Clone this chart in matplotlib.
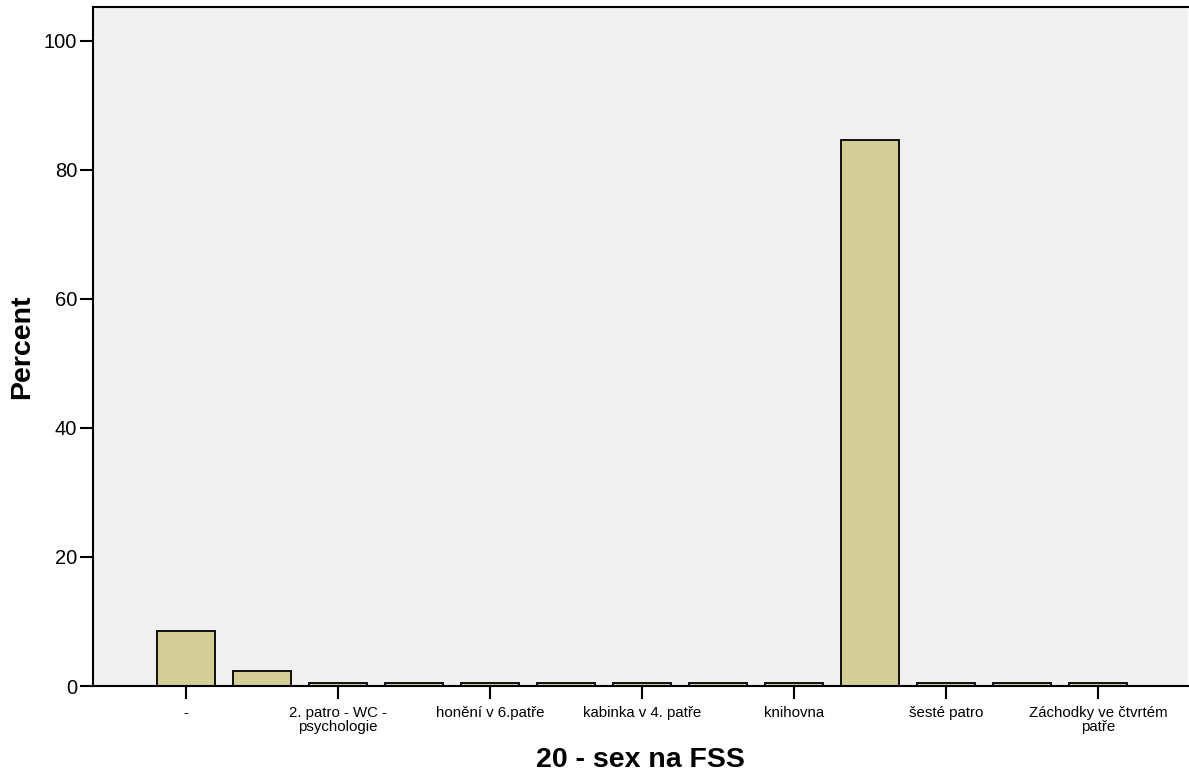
"""Bar chart: 20 - sex na FSS (percent of responses)."""

import numpy as np
import matplotlib.pyplot as plt

plt.rcParams['font.family'] = ['Liberation Sans', 'DejaVu Sans']

# tick labels as drawn; blank where the chart does not print one
labels = ['-', '', '2. patro - WC -\npsychologie', '', 'honění v 6.patře', '',
          'kabinka v 4. patře', '', 'knihovna', '', 'šesté patro', '',
          'Záchodky ve čtvrtém\npatře']
percent = [8.5, 2.35, 0.47, 0.47, 0.47, 0.47, 0.47, 0.47, 0.47, 84.6, 0.47, 0.47, 0.47]
shown = [0, 2, 4, 6, 8, 10, 12]
yticks = [0, 20, 40, 60, 80, 100]

fig = plt.figure(figsize=(11.89, 7.77), dpi=100)
ax = fig.add_axes([93 / 1189, 91 / 777, 1095 / 1189, 679 / 777])
ax.set_facecolor('#f0f0f0')

x = np.arange(len(percent))
ax.bar(x, percent, width=0.76, color='#d3ce97', edgecolor='black', linewidth=1.3, zorder=2)

ax.set_xlim(-1.224, 13.18)
ax.set_ylim(0, 105.27)

ax.set_xticks([x[i] for i in shown])
ax.set_xticklabels([labels[i] for i in shown], fontsize=10.8, linespacing=0.95)
ax.set_yticks(yticks)
ax.set_yticklabels([str(v) for v in yticks], fontsize=14.5)
ax.tick_params(axis='both', direction='out', length=9.5, width=1.5, color='black')
ax.tick_params(axis='x', pad=5)
ax.tick_params(axis='y', pad=2)

for side in ['top', 'left', 'bottom']:
    ax.spines[side].set_linewidth(1.5)
    ax.spines[side].set_color('black')
ax.spines['right'].set_visible(False)

ax.set_xlabel('20 - sex na FSS', fontsize=20.5, fontweight='bold', labelpad=10)
ax.set_ylabel('Percent', fontsize=20.5, fontweight='bold', labelpad=6)

fig.savefig('out.png', dpi=100)
plt.close(fig)
